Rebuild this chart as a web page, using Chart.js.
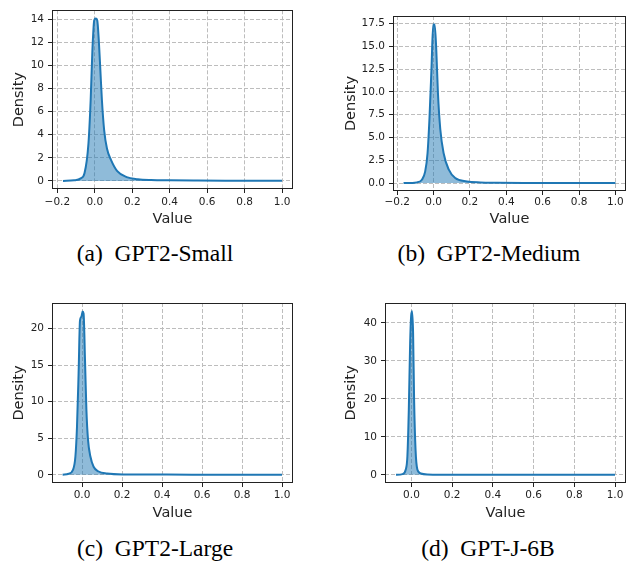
<!DOCTYPE html>
<html>
<head>
<meta charset="utf-8">
<script src="https://cdn.jsdelivr.net/npm/chart.js@4.4.1/dist/chart.umd.min.js"></script>
<style>
    body { margin: 0; background: #fff; }
    #page { position: relative; width: 631px; height: 563px; overflow: hidden; }
    canvas { position: absolute; }
    .caption {
        position: absolute;
        width: 320px;
        text-align: center;
        font-family: "Liberation Serif", "Times New Roman", serif;
        font-size: 23.5px;
        color: #000;
        white-space: pre;
    }
</style>
</head>
<body>
<div id="page">
    <canvas id="chartSmall" width="315" height="235" style="left:0;top:0"></canvas>
    <canvas id="chartMedium" width="311" height="235" style="left:320px;top:0"></canvas>
    <canvas id="chartLarge" width="315" height="235" style="left:0;top:290px"></canvas>
    <canvas id="chartJ6B" width="311" height="235" style="left:320px;top:290px"></canvas>
    <div class="caption" style="left:-5px;top:240px">(a)  GPT2-Small</div>
    <div class="caption" style="left:329px;top:240px">(b)  GPT2-Medium</div>
    <div class="caption" style="left:-5px;top:535px">(c)  GPT2-Large</div>
    <div class="caption" style="left:328px;top:535px">(d)  GPT-J-6B</div>
</div>
<script>
// ==========================================
// ДАННЫЕ
// ==========================================

// (a) GPT2-Small
const smallValues = [-0.170, -0.110, -0.075, -0.055, -0.034, -0.022, -0.013, -0.003, 0.005, 0.013, 0.022, 0.030, 0.038, 0.050, 0.065, 0.087, 0.120, 0.170, 0.230, 0.30, 0.40, 0.55, 0.70, 0.85, 1.00];
const smallDensity = [0.0, 0.05, 0.22, 0.66, 3.2, 7.0, 11.2, 13.9, 14.05, 13.9, 12.0, 9.5, 7.0, 4.4, 2.8, 1.8, 0.85, 0.33, 0.15, 0.08, 0.05, 0.03, 0.02, 0.02, 0.02];

// (b) GPT2-Medium
const mediumValues = [-0.165, -0.092, -0.064, -0.046, -0.033, -0.022, -0.011, -0.002, 0.006, 0.015, 0.024, 0.037, 0.055, 0.083, 0.119, 0.183, 0.257, 0.35, 0.50, 0.70, 0.85, 1.00];
const mediumDensity = [0.0, 0.07, 0.37, 1.28, 3.3, 7.3, 12.8, 17.4, 17.4, 14.6, 9.9, 5.9, 3.3, 1.5, 0.55, 0.18, 0.07, 0.04, 0.02, 0.02, 0.02, 0.02];

// (c) GPT2-Large
const largeValues = [-0.097, -0.067, -0.045, -0.033, -0.025, -0.017, -0.010, -0.003, 0.003, 0.008, 0.015, 0.022, 0.030, 0.042, 0.058, 0.083, 0.125, 0.208, 0.35, 0.55, 0.75, 1.00];
const largeDensity = [0.0, 0.14, 0.68, 2.5, 6.6, 13.9, 21.1, 21.6, 22.3, 22.0, 15.7, 8.9, 4.8, 2.5, 1.1, 0.45, 0.18, 0.05, 0.03, 0.02, 0.02, 0.02];

// (d) GPT-J-6B
const j6bValues = [-0.076, -0.044, -0.028, -0.020, -0.013, -0.0065, -0.0016, 0.003, 0.008, 0.013, 0.020, 0.029, 0.046, 0.078, 0.15, 0.35, 0.60, 0.80, 1.00];
const j6bDensity = [0.0, 0.18, 1.4, 4.9, 17.2, 34.7, 41.8, 43.1, 37.4, 19.8, 6.7, 1.4, 0.35, 0.09, 0.03, 0.02, 0.02, 0.02, 0.02];

// Метки осей
const xTicksWide = [-0.2, 0.0, 0.2, 0.4, 0.6, 0.8, 1.0];
const xTicksNarrow = [0.0, 0.2, 0.4, 0.6, 0.8, 1.0];
const yTicksSmall = [0, 2, 4, 6, 8, 10, 12, 14];
const yTicksMedium = [0.0, 2.5, 5.0, 7.5, 10.0, 12.5, 15.0, 17.5];
const yTicksLarge = [0, 5, 10, 15, 20];
const yTicksJ6B = [0, 10, 20, 30, 40];

// ==========================================
// ГРАФИКИ
// ==========================================

const LINE_COLOR = '#1f77b4';
const FILL_COLOR = 'rgba(31, 119, 180, 0.5)';
const TEXT_COLOR = '#222';
const GRID_COLOR = '#bdbdbd';

// рамка вокруг области графика, как spines в matplotlib
const framePlugin = {
    id: 'frame',
    afterDraw(chart) {
        const { ctx, chartArea } = chart;
        const l = Math.round(chartArea.left) + 0.5;
        const t = Math.round(chartArea.top) + 0.5;
        const r = Math.round(chartArea.right) - 0.5;
        const b = Math.round(chartArea.bottom) - 0.5;
        ctx.save();
        ctx.strokeStyle = TEXT_COLOR;
        ctx.lineWidth = 1;
        ctx.strokeRect(l, t, r - l, b - t);
        ctx.restore();
    }
};

function fmt(v, digits) {
    return v.toFixed(digits).replace('-', '\u2212');
}

function renderDensityChart(id, values, density, opts) {
    const ctx = document.getElementById(id);
    if (!ctx) return;

    const points = values.map((v, i) => ({ x: v, y: density[i] }));

    return new Chart(ctx, {
        type: 'line',
        data: {
            datasets: [{
                data: points,
                borderColor: LINE_COLOR,
                backgroundColor: FILL_COLOR,
                borderWidth: 2,
                pointRadius: 0,
                cubicInterpolationMode: 'monotone',
                fill: 'origin'
            }]
        },
        options: {
            responsive: false,
            animation: false,
            layout: {
                padding: { top: opts.top, right: opts.right, left: 0, bottom: 0 }
            },
            plugins: {
                legend: { display: false },
                tooltip: { enabled: false }
            },
            scales: {
                x: {
                    type: 'linear',
                    min: opts.xMin,
                    max: opts.xMax,
                    afterBuildTicks: scale => { scale.ticks = opts.xTicks.map(v => ({ value: v })); },
                    afterFit: scale => { scale.height = opts.xHeight; },
                    ticks: {
                        color: TEXT_COLOR,
                        font: { family: 'DejaVu Sans', size: 10.5 },
                        padding: opts.xTickPad,
                        maxRotation: 0,
                        autoSkip: false,
                        callback: v => fmt(v, 1)
                    },
                    grid: {
                        color: GRID_COLOR,
                        lineWidth: 1,
                        tickColor: TEXT_COLOR,
                        tickLength: 4,
                        tickWidth: 1,
                        tickBorderDash: []
                    },
                    border: { display: false, dash: [4, 2] },
                    title: {
                        display: true,
                        text: 'Value',
                        color: TEXT_COLOR,
                        font: { family: 'DejaVu Sans', size: 14.5 },
                        padding: { top: 0, bottom: opts.xTitlePad }
                    }
                },
                y: {
                    min: opts.yMin,
                    max: opts.yMax,
                    afterBuildTicks: scale => { scale.ticks = opts.yTicks.map(v => ({ value: v })); },
                    afterFit: scale => { scale.width = opts.left; },
                    ticks: {
                        color: TEXT_COLOR,
                        font: { family: 'DejaVu Sans', size: 10.5 },
                        padding: 4,
                        autoSkip: false,
                        callback: v => fmt(v, opts.yDigits)
                    },
                    grid: {
                        color: GRID_COLOR,
                        lineWidth: 1,
                        tickColor: TEXT_COLOR,
                        tickLength: 4,
                        tickWidth: 1,
                        tickBorderDash: []
                    },
                    border: { display: false, dash: [4, 2] },
                    title: {
                        display: true,
                        text: 'Density',
                        color: TEXT_COLOR,
                        font: { family: 'DejaVu Sans', size: 14.5 },
                        padding: { top: opts.yTitlePad, bottom: 0 }
                    }
                }
            }
        },
        plugins: [framePlugin]
    });
}

renderDensityChart('chartSmall', smallValues, smallDensity, {
    xMin: -0.2285, xMax: 1.0585, yMin: -0.70, yMax: 14.76,
    xTicks: xTicksWide, yTicks: yTicksSmall, yDigits: 0,
    left: 52, top: 9, right: 22, xHeight: 46,
    xTickPad: 3, xTitlePad: 7, yTitlePad: 11
});

renderDensityChart('chartMedium', mediumValues, mediumDensity, {
    xMin: -0.223, xMax: 1.058, yMin: -0.87, yMax: 18.32,
    xTicks: xTicksWide, yTicks: yTicksMedium, yDigits: 1,
    left: 73, top: 16, right: 5, xHeight: 44,
    xTickPad: 1, xTitlePad: 7, yTitlePad: 23
});

renderDensityChart('chartLarge', largeValues, largeDensity, {
    xMin: -0.15, xMax: 1.055, yMin: -1.12, yMax: 23.47,
    xTicks: xTicksNarrow, yTicks: yTicksLarge, yDigits: 0,
    left: 52, top: 13, right: 22, xHeight: 42,
    xTickPad: 2, xTitlePad: 3, yTitlePad: 11
});

renderDensityChart('chartJ6B', j6bValues, j6bDensity, {
    xMin: -0.130, xMax: 1.054, yMin: -2.16, yMax: 45.26,
    xTicks: xTicksNarrow, yTicks: yTicksJ6B, yDigits: 0,
    left: 65, top: 13, right: 5, xHeight: 42,
    xTickPad: 2, xTitlePad: 3, yTitlePad: 23
});
</script>
</body>
</html>
